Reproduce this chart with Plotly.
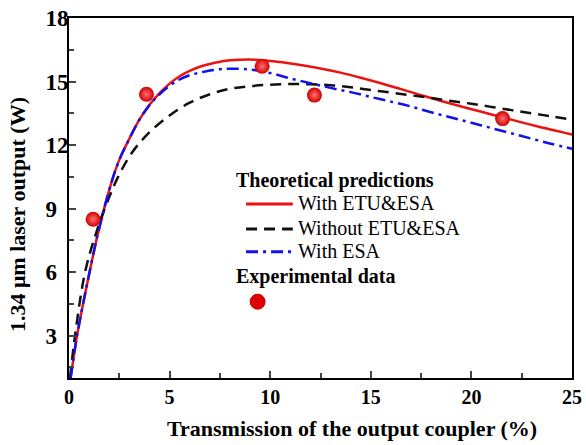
import plotly.graph_objects as go

# Theoretical curves
x_etu_esa = [0.08, 0.4, 0.7, 1.0, 1.44, 2.1, 2.5, 3.0, 3.5, 4.0, 4.5, 5.0, 5.5, 6.0, 6.5, 7.0, 7.5, 8.0, 8.5,
             9.5, 10.5, 11.5, 12.5, 13.5, 14.5, 15.5, 16.5, 17.5, 18.5, 19.5, 20.5, 21.5, 22.5, 23.5, 24.5, 25]
y_etu_esa = [1.0, 3.0, 4.5, 5.9, 7.83, 10.2, 11.3, 12.3, 13.2, 13.9, 14.45, 14.9, 15.25, 15.5, 15.7, 15.83,
             15.93, 16.0, 16.03, 16.02, 15.92, 15.78, 15.62, 15.42, 15.18, 14.92, 14.64, 14.36, 14.08, 13.82,
             13.57, 13.32, 13.07, 12.83, 12.61, 12.5]

x_no = [0.05, 0.3, 0.8, 1.4, 1.94, 2.44, 3.1, 3.93, 5.0, 6.0, 7.0, 8.0, 9.0, 10, 11, 12, 13, 14, 15,
        16, 17, 18, 19, 20, 21, 22, 23, 24, 25]
y_no = [1.0, 3.0, 6.0, 8.0, 9.4, 10.5, 11.6, 12.54, 13.4, 14.0, 14.4, 14.66, 14.78, 14.85, 14.88, 14.87, 14.83,
        14.73, 14.6, 14.48, 14.35, 14.22, 14.08, 13.95, 13.8, 13.65, 13.5, 13.35, 13.2]

x_esa = [0.08, 0.4, 0.7, 1.0, 1.44, 2.1, 2.5, 3.0, 3.5, 4.0, 4.5, 5.0, 5.5, 6.0, 6.5, 7.0, 7.5, 8.0, 9.0,
         10, 11, 12, 13, 14, 15, 16, 17, 18, 19, 20, 21, 22, 23, 24, 25]
y_esa = [1.0, 3.0, 4.5, 5.9, 7.83, 10.2, 11.3, 12.3, 13.2, 13.88, 14.4, 14.8, 15.1, 15.3, 15.42, 15.52, 15.58,
         15.6, 15.57, 15.4, 15.15, 14.92, 14.7, 14.5, 14.27, 14.05, 13.82, 13.55, 13.3, 13.05, 12.8, 12.55,
         12.3, 12.05, 11.83]

# Experimental data
x_exp = [1.2, 3.85, 9.6, 12.2, 21.55]
y_exp = [8.5, 14.4, 15.72, 14.36, 13.25]

x_ticks = [0, 5, 10, 15, 20, 25]
y_ticks = [3, 6, 9, 12, 15, 18]
y_ticktext = [str(v) + ("\u2007" if v < 10 else "") for v in y_ticks]

FONT = "Liberation Serif, Times New Roman, serif"
RED, BLACK, BLUE = "#ee1111", "#111111", "#1111ee"
DASH_NO = "11px,7px"
DASH_ESA = "12px,5px,3px,5px"

fig = go.Figure()
fig.add_trace(go.Scatter(x=x_etu_esa, y=y_etu_esa, mode="lines", name="With ETU&ESA",
                         line=dict(color=RED, width=2.5, shape="spline")))
fig.add_trace(go.Scatter(x=x_no, y=y_no, mode="lines", name="Without ETU&ESA",
                         line=dict(color=BLACK, width=2.5, shape="spline", dash=DASH_NO)))
fig.add_trace(go.Scatter(x=x_esa, y=y_esa, mode="lines", name="With ESA",
                         line=dict(color=BLUE, width=2.5, shape="spline", dash=DASH_ESA)))
fig.add_trace(go.Scatter(x=x_exp, y=y_exp, mode="markers", name="Experimental data",
                         marker=dict(size=15, color="#d00000",
                                     gradient=dict(type="radial", color="#ff7070"))))

# Manual legend (paper coordinates)
ann = []
shapes = []
def txt(x, y, s):
    ann.append(dict(x=x, y=y, xref="paper", yref="paper", xanchor="left", yanchor="middle",
                    text=s, showarrow=False, font=dict(family=FONT, size=20, color="black")))

txt(0.328, 0.548, "<b>Theoretical predictions</b>")
legend_items = [("With ETU&ESA", RED, "solid", 0.483),
                ("Without ETU&ESA", BLACK, DASH_NO, 0.414),
                ("With ESA", BLUE, DASH_ESA, 0.351)]
for name, col, dash, yy in legend_items:
    shapes.append(dict(type="line", xref="paper", yref="paper", x0=0.352, x1=0.445, y0=yy, y1=yy,
                       line=dict(color=col, width=3, dash=dash)))
    txt(0.452, yy + 0.003, name)
txt(0.328, 0.283, "<b>Experimental data</b>")
shapes.append(dict(type="circle", xref="paper", yref="paper", xsizemode="pixel", ysizemode="pixel",
                   xanchor=0.375, yanchor=0.212, x0=-7.5, x1=7.5, y0=-7.5, y1=7.5,
                   fillcolor="#e00000", line=dict(color="#c00000", width=1)))

# Axis titles
ann.append(dict(x=0.563, y=-0.139, xref="paper", yref="paper", xanchor="center", yanchor="middle",
                text="<b>Transmission of the output coupler (%)</b>", showarrow=False,
                font=dict(family=FONT, size=22, color="black")))
ann.append(dict(x=-0.101, y=0.453, xref="paper", yref="paper", xanchor="center", yanchor="middle",
                text="<b>1.34 μm laser output (W)</b>", showarrow=False, textangle=-90,
                font=dict(family=FONT, size=22, color="black")))

fig.update_layout(
    width=586, height=445,
    margin=dict(l=69, r=14, t=18, b=67),
    paper_bgcolor="white", plot_bgcolor="white",
    font=dict(family=FONT, size=19, color="black"),
    showlegend=False,
    annotations=ann, shapes=shapes,
    xaxis=dict(range=[0, 25], tickvals=x_ticks, ticks="inside", ticklen=7, tickwidth=2,
               showline=True, linewidth=2, linecolor="black", mirror=True, showgrid=False,
               zeroline=False, tickfont=dict(family=FONT, size=20, weight="bold"), automargin=False,
               minor=dict(ticks="inside", ticklen=5, tickwidth=2, dtick=2.5, tick0=0, showgrid=False)),
    yaxis=dict(range=[1, 18], tickvals=y_ticks, ticktext=y_ticktext, ticks="inside", ticklen=7, tickwidth=2,
               showline=True, linewidth=2, linecolor="black", mirror=True, showgrid=False,
               zeroline=False, tickfont=dict(family=FONT, size=23, weight="bold"), automargin=False,
               ticklabelstandoff=-6,
               minor=dict(ticks="inside", ticklen=5, tickwidth=2, dtick=1.5, tick0=0, showgrid=False)),
)

fig.write_html("out.html")
